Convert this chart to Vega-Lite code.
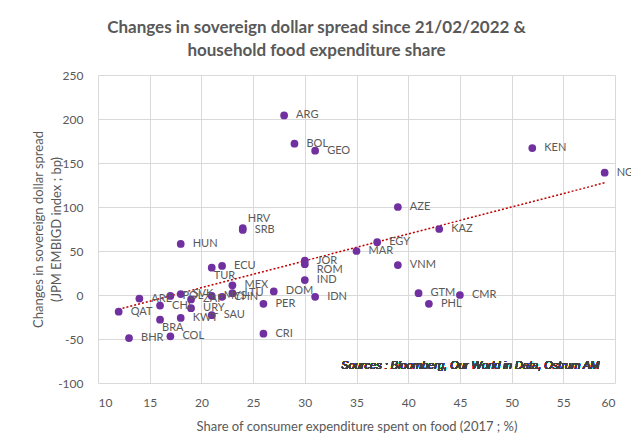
{
  "$schema": "https://vega.github.io/schema/vega-lite/v6.json",
  "autosize": {"type": "none"},
  "padding": {"left": 98, "top": 75, "right": 16, "bottom": 61},
  "width": 517,
  "height": 308,
  "background": "white",
  "title": {
    "text": ["Changes in sovereign dollar spread since 21/02/2022 &", "household food expenditure share"],
    "font": "Lato",
    "fontSize": 17,
    "fontWeight": "bold",
    "color": "#595959",
    "anchor": "middle",
    "dx": -40,
    "lineHeight": 23,
    "offset": 9
  },
  "config": {
    "view": {"stroke": null},
    "axis": {
      "labelFont": "Lato",
      "titleFont": "Lato",
      "labelColor": "#595959",
      "titleColor": "#595959",
      "labelFontSize": 12,
      "titleFontSize": 13,
      "titleFontWeight": "normal",
      "gridColor": "#d9d9d9",
      "gridWidth": 1,
      "domain": false,
      "ticks": false
    }
  },
  "data": {
    "values": [
      {"country": "ARG", "food": 28, "spread": 204},
      {"country": "BOL", "food": 29, "spread": 172},
      {"country": "GEO", "food": 31, "spread": 164},
      {"country": "KEN", "food": 52, "spread": 167},
      {"country": "NGA", "food": 59, "spread": 139},
      {"country": "AZE", "food": 39, "spread": 100},
      {"country": "HRV", "food": 24, "spread": 76},
      {"country": "SRB", "food": 24, "spread": 74},
      {"country": "HUN", "food": 18, "spread": 58},
      {"country": "KAZ", "food": 43, "spread": 75},
      {"country": "EGY", "food": 37, "spread": 60},
      {"country": "MAR", "food": 35, "spread": 50},
      {"country": "JOR", "food": 30, "spread": 39},
      {"country": "ROM", "food": 30, "spread": 35},
      {"country": "VNM", "food": 39, "spread": 34},
      {"country": "ECU", "food": 22, "spread": 33},
      {"country": "TUR", "food": 21, "spread": 31},
      {"country": "IND", "food": 30, "spread": 17},
      {"country": "MEX", "food": 23, "spread": 11},
      {"country": "DOM", "food": 27, "spread": 4},
      {"country": "GTM", "food": 41, "spread": 2},
      {"country": "CMR", "food": 45, "spread": 0},
      {"country": "IDN", "food": 31, "spread": -2},
      {"country": "PHL", "food": 42, "spread": -10},
      {"country": "PER", "food": 26, "spread": -10},
      {"country": "CRI", "food": 26, "spread": -44},
      {"country": "LTU", "food": 23, "spread": 2},
      {"country": "CHN", "food": 22, "spread": -2},
      {"country": "MYS", "food": 21, "spread": -1},
      {"country": "SVK", "food": 18, "spread": 1},
      {"country": "POL", "food": 17, "spread": -1},
      {"country": "ARE", "food": 14, "spread": -4},
      {"country": "QAT", "food": 12, "spread": -19},
      {"country": "CHL", "food": 16, "spread": -12},
      {"country": "ZAF", "food": 19, "spread": -5},
      {"country": "URY", "food": 19, "spread": -15},
      {"country": "SAU", "food": 21, "spread": -23},
      {"country": "KWT", "food": 18, "spread": -26},
      {"country": "BRA", "food": 16, "spread": -28},
      {"country": "BHR", "food": 13, "spread": -49},
      {"country": "COL", "food": 17, "spread": -47}
    ]
  },
  "encoding": {
    "x": {
      "field": "food", "type": "quantitative",
      "scale": {"domain": [10, 60], "nice": false},
      "axis": {"values": [10, 15, 20, 25, 30, 35, 40, 45, 50, 55, 60], "labelPadding": 14, "titlePadding": 12,
               "title": "Share of consumer expenditure  spent on food (2017 ; %)"}
    },
    "y": {
      "field": "spread", "type": "quantitative",
      "scale": {"domain": [-100, 250], "nice": false},
      "axis": {"values": [-100, -50, 0, 50, 100, 150, 200, 250], "labelPadding": 15, "titlePadding": -6,
               "labelExpr": "'' + datum.value",
               "titleLineHeight": 18,
               "title": ["Changes in sovereign dollar spread", "(JPM EMBIGD index ; bp)"]}
    }
  },
  "layer": [
    {
      "transform": [{"regression": "spread", "on": "food", "extent": [12, 59]}],
      "mark": {"type": "line", "color": "#C00000", "strokeDash": [2, 2], "strokeWidth": 1.5}
    },
    {
      "mark": {"type": "circle", "color": "#7030A0", "opacity": 1, "size": 60}
    },
    {
      "transform": [{"filter": {"not": {"field": "country", "oneOf": ["HRV", "TUR", "BRA", "ROM"]}}}],
      "mark": {"type": "text", "align": "left", "baseline": "middle", "dx": 12, "font": "Lato", "fontSize": 11, "color": "#595959"},
      "encoding": {"text": {"field": "country"}}
    },
    {
      "transform": [{"filter": {"field": "country", "oneOf": ["ROM"]}}],
      "mark": {"type": "text", "align": "left", "baseline": "middle", "dx": 12, "dy": 6, "font": "Lato", "fontSize": 11, "color": "#595959"},
      "encoding": {"text": {"field": "country"}}
    },
    {
      "transform": [{"filter": {"field": "country", "oneOf": ["HRV"]}}],
      "mark": {"type": "text", "align": "left", "baseline": "middle", "dx": 5, "dy": -9, "font": "Lato", "fontSize": 11, "color": "#595959"},
      "encoding": {"text": {"field": "country"}}
    },
    {
      "transform": [{"filter": {"field": "country", "oneOf": ["TUR", "BRA"]}}],
      "mark": {"type": "text", "align": "left", "baseline": "middle", "dx": 2, "dy": 8, "font": "Lato", "fontSize": 11, "color": "#595959"},
      "encoding": {"text": {"field": "country"}}
    },
    {
      "mark": {"type": "text", "align": "right", "baseline": "middle", "font": "Liberation Sans", "fontSize": 11, "fontStyle": "italic", "fontWeight": "normal", "color": "#404040"},
      "encoding": {
        "x": {"datum": 58.5, "type": "quantitative"},
        "y": {"datum": -81, "type": "quantitative"},
        "text": {"value": "Sources : Bloomberg, Our World in Data, Ostrum AM"}
      }
    }
  ]
}
